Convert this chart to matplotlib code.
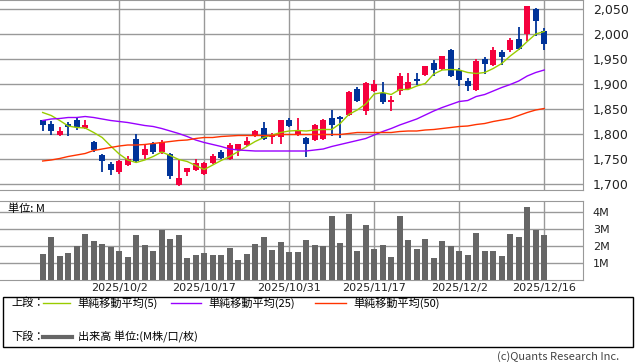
import numpy as np
import pandas as pd
import matplotlib
matplotlib.use('Agg')
import matplotlib.pyplot as plt
from matplotlib.lines import Line2D
from matplotlib.patches import Rectangle

JP = ['Noto Sans CJK JP', 'DejaVu Sans']

# Trading days (TSE calendar, 2025/9/18 - 2025/12/16)
holidays = ['2025-09-23', '2025-10-13', '2025-11-03', '2025-11-24']
dates = pd.bdate_range('2025-09-18', '2025-12-16', freq='C', holidays=holidays)
tick_dates = ['2025/10/2', '2025/10/17', '2025/10/31', '2025/11/17', '2025/12/2', '2025/12/16']

# OHLC
opens = [1827, 1820, 1798, 1819, 1828, 1811, 1783, 1757, 1740, 1723,
         1737, 1790, 1758, 1780, 1764, 1760, 1698, 1724, 1728, 1720,
         1741, 1764, 1749, 1768, 1778, 1795, 1812, 1793, 1793, 1828,
         1799, 1792, 1788, 1790, 1832, 1834, 1838, 1890, 1845, 1885,
         1882, 1863, 1886, 1890, 1910, 1918, 1942, 1929, 1968, 1928,
         1906, 1888, 1950, 1938, 1963, 1967, 1990, 2000, 2049, 2006]
highs = [1828, 1827, 1814, 1824, 1832, 1828, 1786, 1761, 1744, 1748,
         1756, 1800, 1781, 1784, 1789, 1762, 1750, 1732, 1750, 1745,
         1760, 1769, 1783, 1780, 1795, 1808, 1824, 1802, 1828, 1833,
         1832, 1794, 1820, 1830, 1848, 1836, 1886, 1895, 1904, 1908,
         1904, 1877, 1922, 1922, 1923, 1937, 1949, 1956, 1970, 1933,
         1912, 1951, 1955, 1975, 1968, 1993, 2015, 2057, 2052, 2013]
lows = [1806, 1798, 1796, 1796, 1809, 1810, 1765, 1725, 1719, 1720,
        1736, 1745, 1751, 1761, 1760, 1710, 1697, 1716, 1726, 1719,
        1740, 1750, 1748, 1756, 1777, 1794, 1788, 1781, 1781, 1814,
        1796, 1754, 1787, 1789, 1797, 1793, 1837, 1864, 1839, 1884,
        1860, 1846, 1879, 1888, 1898, 1916, 1917, 1928, 1914, 1897,
        1887, 1887, 1921, 1937, 1938, 1965, 1968, 1986, 1996, 1968]
closes = [1818, 1806, 1806, 1813, 1813, 1818, 1768, 1746, 1727, 1746,
          1749, 1746, 1770, 1763, 1783, 1715, 1711, 1731, 1741, 1741,
          1755, 1752, 1778, 1779, 1785, 1806, 1789, 1797, 1828, 1815,
          1807, 1780, 1818, 1828, 1818, 1829, 1884, 1865, 1902, 1900,
          1864, 1867, 1916, 1904, 1906, 1936, 1928, 1955, 1916, 1908,
          1896, 1946, 1940, 1968, 1953, 1987, 1970, 2056, 2025, 1979]

# moving averages as drawn
ma5 = [1843, 1837, 1827, 1816, 1813, 1812, 1803, 1793, 1776, 1760,
       1748, 1743, 1748, 1755, 1764, 1757, 1749, 1745, 1737, 1729,
       1738, 1747, 1755, 1765, 1775, 1785, 1793, 1798, 1803, 1806,
       1807, 1806, 1808, 1809, 1809, 1821, 1839, 1848, 1860, 1880,
       1883, 1879, 1889, 1889, 1896, 1901, 1920, 1928, 1929, 1928,
       1923, 1921, 1923, 1931, 1941, 1956, 1969, 1985, 2000, 2005]
ma25 = [1827, 1830, 1831, 1833, 1833, 1835, 1833, 1830, 1827, 1825,
        1823, 1820, 1817, 1815, 1811, 1806, 1801, 1795, 1788, 1783,
        1779, 1775, 1770, 1768, 1767, 1766, 1766, 1766, 1766, 1766,
        1766, 1766, 1768, 1770, 1775, 1779, 1783, 1787, 1791, 1798,
        1805, 1811, 1818, 1824, 1830, 1838, 1846, 1853, 1859, 1865,
        1867, 1875, 1879, 1886, 1893, 1899, 1906, 1916, 1923, 1928]
ma50 = [1746, 1748, 1751, 1755, 1758, 1761, 1767, 1770, 1773, 1776,
        1778, 1778, 1779, 1781, 1783, 1785, 1787, 1788, 1791, 1793,
        1793, 1795, 1796, 1797, 1797, 1797, 1797, 1797, 1799, 1799,
        1799, 1799, 1799, 1799, 1799, 1799, 1801, 1803, 1803, 1803,
        1803, 1803, 1805, 1806, 1806, 1808, 1809, 1811, 1813, 1815,
        1816, 1819, 1821, 1825, 1828, 1831, 1837, 1843, 1848, 1851]

# volume (M)
volume = [1.55, 2.55, 1.43, 1.60, 2.02, 2.72, 2.31, 2.13, 1.96, 1.72,
          1.37, 2.66, 2.07, 1.72, 2.96, 2.43, 2.66, 1.31, 1.49, 1.60,
          1.49, 1.49, 1.92, 1.19, 1.55, 2.13, 2.55, 1.78, 2.25, 1.66,
          1.66, 2.37, 2.07, 2.02, 3.78, 2.19, 3.90, 1.72, 3.25, 1.84,
          2.07, 1.37, 3.78, 2.37, 1.84, 2.43, 1.31, 2.31, 2.02, 1.72,
          1.49, 2.78, 1.72, 1.72, 1.43, 2.72, 2.55, 4.31, 2.96, 2.66]

UP = '#f5003d'
DOWN = '#003399'
GRID = '#999999'

W, H = 638, 362
fig = plt.figure(figsize=(W / 100, H / 100), dpi=100)

x = np.arange(len(closes))
labels = [f'{d.year}/{d.month}/{d.day}' for d in dates]
tick_idx = [labels.index(t) for t in tick_dates]
xlim = (-5.02, 63.56)

# ---- price panel ----
ax = fig.add_axes([0, (H - 190) / H, 583 / W, 190 / H])
o, h, l, c = map(np.array, (opens, highs, lows, closes))
cols = np.where(c >= o, UP, DOWN)
ax.vlines(x, l, h, colors=cols, lw=1.3, zorder=3)
ax.bar(x, np.maximum(np.abs(c - o), 1.2), bottom=np.minimum(o, c), width=0.72,
       color=cols, zorder=4)
ax.plot(x, ma5, color='#99cc00', lw=1, zorder=5)
ax.plot(x, ma25, color='#9900ff', lw=1, zorder=5)
ax.plot(x, ma50, color='#ff3300', lw=1, zorder=5)

ax.set_xlim(xlim)
ax.set_ylim(1688, 2068)
ax.set_yticks(range(1700, 2051, 50))
ax.set_yticklabels([f'{v:,}' for v in range(1700, 2051, 50)])
ax.yaxis.tick_right()
ax.set_xticks(tick_idx)
ax.set_xticklabels([])
ax.tick_params(length=0, labelsize=9, pad=7, labelcolor='#222222')
ax.grid(True, color=GRID, lw=1)
ax.set_axisbelow(True)
for s in ax.spines.values():
    s.set_color(GRID)
ax.spines['left'].set_visible(False)

# ---- volume panel ----
axv = fig.add_axes([0, (H - 280.3) / H, 583 / W, 79.3 / H])
axv.bar(x, volume, width=0.72, color='#666666', zorder=3)
axv.set_xlim(xlim)
axv.set_ylim(0, 4.66)
axv.set_yticks([1, 2, 3, 4])
axv.set_yticklabels(['1M', '2M', '3M', '4M'])
axv.yaxis.tick_right()
axv.set_xticks(tick_idx)
axv.set_xticklabels(tick_dates)
axv.tick_params(axis='y', length=0, labelsize=8, pad=7, labelcolor='#222222')
axv.tick_params(axis='x', length=0, labelsize=8, pad=2, labelcolor='#222222')
axv.grid(True, color=GRID, lw=1)
axv.set_axisbelow(True)
for s in axv.spines.values():
    s.set_color(GRID)
axv.spines['left'].set_visible(False)
fig.text(8 / W, 1 - 209 / H, '単位: M', fontsize=8, va='center', family=JP)

# ---- legend box ----
fig.add_artist(Rectangle((3 / W, (H - 347) / H), 630 / W, 50 / H, transform=fig.transFigure,
                         fill=False, edgecolor='black', lw=1))
y1, y2 = 1 - 303 / H, 1 - 337 / H
fig.text(11 / W, y1, '上段：', fontsize=8, va='center', family=JP)
fig.text(11 / W, y2, '下段：', fontsize=8, va='center', family=JP)
legend_items = [(43, 70, '#99cc00', '単純移動平均(5)'),
                (171, 201, '#9900ff', '単純移動平均(25)'),
                (315, 346, '#ff3300', '単純移動平均(50)')]
for x0, x1, col, txt in legend_items:
    fig.add_artist(Line2D([x0 / W, x1 / W], [y1, y1], transform=fig.transFigure, color=col, lw=1))
    fig.text((x1 + 7) / W, y1, txt, fontsize=8, va='center', family=JP)
fig.add_artist(Line2D([43 / W, 72 / W], [y2, y2], transform=fig.transFigure, color='#666666', lw=3))
fig.text(78 / W, y2, '出来高 単位:(M株/口/枚)', fontsize=8, va='center', family=JP)

fig.text(619 / W, 1 - 357 / H, '(c)Quants Research Inc.', fontsize=8, ha='right', va='center',
         color='#444444', family=JP)

fig.savefig('out.png', dpi=100)
